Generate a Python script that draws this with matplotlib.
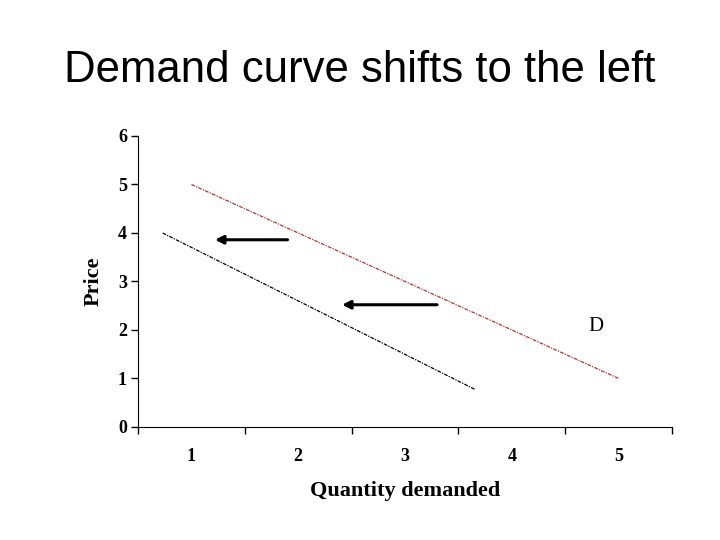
import matplotlib
matplotlib.use('Agg')  # noqa
import matplotlib.pyplot as plt

# data
categories = ['1', '2', '3', '4', '5']
qty_orig = [1, 2, 3, 4, 5]
price_orig = [5, 4, 3, 2, 1]
qty_new = [0.73, 3.65]
price_new = [4.0, 0.78]
# arrows: (x_from, x_to, y)
arrows = [(1.9, 1.22, 3.86), (3.3, 2.41, 2.52)]
y_ticks = [0, 1, 2, 3, 4, 5, 6]

serif = ['Liberation Serif', 'DejaVu Serif']

fig = plt.figure(figsize=(7.2, 5.4), dpi=100)
ax = fig.add_axes([0.1917, 0.2093, 0.7417, 0.5389])

ax.plot(qty_orig, price_orig, color='#b83030', lw=0.9,
        linestyle=(0, (3, 1, 1, 1)))
ax.plot(qty_new, price_new, color='black', lw=0.9,
        linestyle=(0, (3, 1, 1, 1)))

for x0, x1, y in arrows:
    ax.annotate('', xy=(x1, y), xytext=(x0, y),
                arrowprops=dict(arrowstyle='-|>', color='black', lw=2.2,
                                mutation_scale=12, shrinkA=0, shrinkB=0))

ax.text(4.79, 2.08, 'D', family=serif, fontsize=15, ha='center', va='center')

ax.set_xlim(0.5, 5.5)
ax.set_ylim(0, 6)
ax.set_xticks([0.5, 1.5, 2.5, 3.5, 4.5, 5.5])
ax.set_xticklabels([])
ax.set_xticks(qty_orig, minor=True)
ax.set_xticklabels(categories, minor=True, family=serif, fontsize=13,
                   fontweight='bold')
ax.tick_params(axis='x', which='minor', length=0, pad=15)
ax.tick_params(axis='x', which='major', length=5, width=1)
ax.set_yticks(y_ticks)
ax.set_yticklabels([str(v) for v in y_ticks], family=serif, fontsize=13,
                   fontweight='bold')
ax.tick_params(axis='y', length=5, width=1, pad=3)

ax.spines['top'].set_visible(False)
ax.spines['right'].set_visible(False)

ax.set_xlabel('Quantity demanded', family=serif, fontsize=16,
              fontweight='bold', labelpad=12)
ax.set_ylabel('Price', family=serif, fontsize=16, fontweight='bold',
              labelpad=10)

fig.text(0.5, 0.87, 'Demand curve shifts to the left',
         family=['Liberation Sans', 'DejaVu Sans'], fontsize=31.5,
         ha='center', va='center')

plt.savefig('out.png')
